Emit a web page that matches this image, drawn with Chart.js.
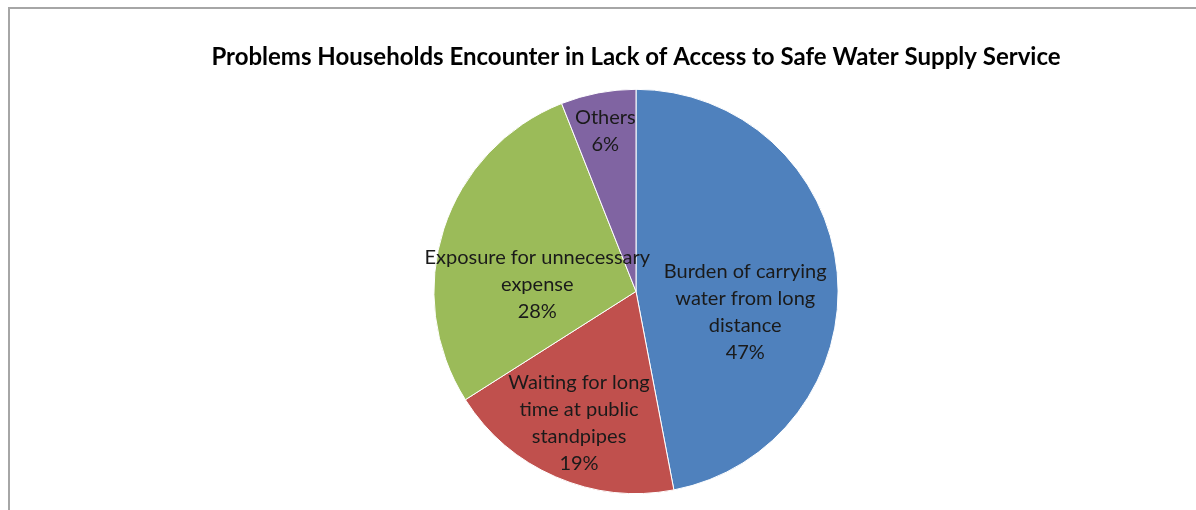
<!DOCTYPE html>
<html>
<head>
<meta charset="utf-8">
<script src="https://cdn.jsdelivr.net/npm/chart.js@4.4.0/dist/chart.umd.min.js"></script>
<style>
  html, body { margin: 0; padding: 0; background: #fff; }
  #wrap { width: 1196px; height: 510px; position: relative; }
</style>
</head>
<body>
<div id="wrap"><canvas id="pieChart"></canvas></div>
<script>
// data
const categories = [
    ['Burden of carrying', 'water from long', 'distance'],
    ['Waiting for long', 'time at public', 'standpipes'],
    ['Exposure for unnecessary', 'expense'],
    ['Others']
];
const shares = [47, 19, 28, 6];
const sliceColors = ['#4F81BD', '#C0504D', '#9BBB59', '#8064A2'];
const chartTitle = 'Problems Households Encounter in Lack of Access to Safe Water Supply Service';

// frame like the excel chart box (left + top edge only visible)
const frame = {
    id: 'frame',
    beforeDraw(chart) {
        const c = chart.ctx;
        c.save();
        c.strokeStyle = '#a6a6a6';
        c.lineWidth = 2;
        c.beginPath();
        c.moveTo(9, chart.height);
        c.lineTo(9, 8);
        c.lineTo(chart.width, 8);
        c.stroke();
        c.restore();
    }
};

// data labels inside the slices: name lines + percent
const sliceLabels = {
    id: 'sliceLabels',
    afterDatasetsDraw(chart, args, opts) {
        const c = chart.ctx;
        const meta = chart.getDatasetMeta(0);
        const total = shares.reduce((a, b) => a + b, 0);
        c.save();
        c.font = opts.font;
        c.fillStyle = opts.color;
        c.textAlign = 'center';
        c.textBaseline = 'middle';
        meta.data.forEach((arc, i) => {
            const p = arc.getProps(['x', 'y', 'startAngle', 'endAngle', 'outerRadius']);
            const place = opts.place[i];
            const mid = (p.startAngle + p.endAngle) / 2 + place.turn;
            const r = p.outerRadius * place.frac;
            const cx = p.x + Math.cos(mid) * r;
            const cy = p.y + Math.sin(mid) * r;
            const lines = categories[i].concat([Math.round(shares[i] / total * 100) + '%']);
            const lh = opts.lineHeight;
            const top = cy - (lines.length - 1) * lh / 2;
            lines.forEach((t, k) => c.fillText(t, cx, top + k * lh));
        });
        c.restore();
    }
};

const ctx = document.getElementById('pieChart').getContext('2d');

let myChart = new Chart(ctx, {
    type: 'pie',
    data: {
        labels: categories.map(l => l.join(' ')),
        datasets: [{
            data: shares,
            backgroundColor: sliceColors,
            borderColor: '#ffffff',
            borderWidth: 1
        }]
    },
    options: {
        responsive: true,
        maintainAspectRatio: false,
        animation: false,
        layout: { padding: { top: 40, bottom: 16, left: 76, right: 0 } },
        plugins: {
            legend: { display: false },
            tooltip: { enabled: false },
            title: {
                display: true,
                text: chartTitle,
                color: '#000',
                font: { family: 'Lato', size: 24, weight: 'bold' },
                padding: { top: 3, bottom: 17 }
            },
            sliceLabels: {
                font: '20px Lato',
                color: '#1a1a1a',
                lineHeight: 27,
                place: [
                    { frac: 0.55, turn: 0.28 },
                    { frac: 0.71, turn: 0 },
                    { frac: 0.49, turn: -0.24 },
                    { frac: 0.81, turn: 0 }
                ]
            }
        }
    },
    plugins: [frame, sliceLabels]
});
</script>
</body>
</html>
